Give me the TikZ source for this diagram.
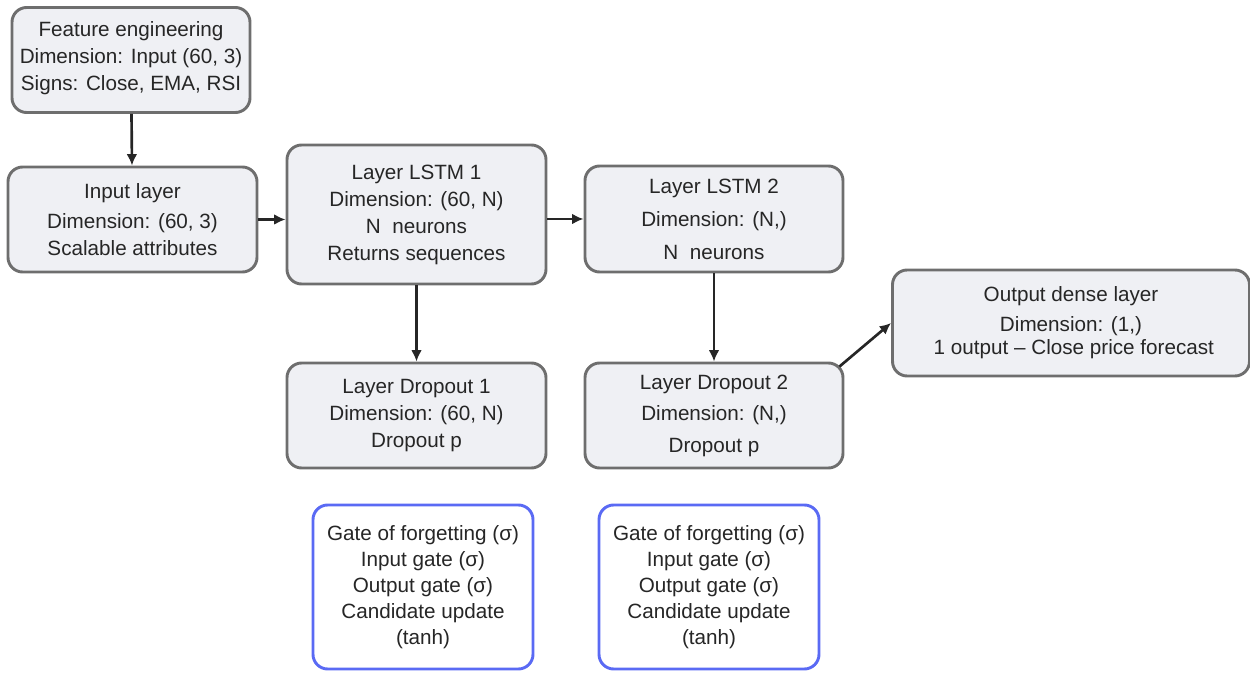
\documentclass[tikz,border=0pt]{standalone}
\usepackage{fontspec}
\setmainfont{Liberation Sans}
\usetikzlibrary{arrows.meta}
\definecolor{boxgray}{HTML}{6E6E6E}
\definecolor{boxfill}{HTML}{EFF0F4}
\definecolor{gateblue}{HTML}{5A6AF4}
\tikzset{
  layer/.style={shape=rectangle, rounded corners=11pt, draw=boxgray, fill=boxfill,
    line width=2.2pt, align=center, inner sep=0pt, text=black!85,
    font=\fontsize{15.5}{20.25}\selectfont},
  gates/.style={layer, draw=gateblue, fill=white, font=\fontsize{15.5}{19.5}\selectfont},
  flow/.style={-{Latex[length=8.5pt,width=8pt]}, line width=2pt, draw=black!85}
}
\begin{document}
\begin{tikzpicture}[x=0.75pt, y=-0.75pt]
  \useasboundingbox (0,0) rectangle (1250,673);
  \node[layer, minimum width=178.5pt, minimum height=78.75pt] (feat) at (131, 60)
    {Feature engineering\\Dimension: Input (60, 3)\\Signs: Close, EMA, RSI\\[-14.5pt]\mbox{}};
  \node[layer, minimum width=186.75pt, minimum height=78.75pt] (inp) at (132.5, 219.5)
    {Input layer\\[2pt]Dimension: (60, 3)\\Scalable attributes};
  \node[layer, minimum width=194.25pt, minimum height=104.25pt] (lstm1) at (416.5, 214.5)
    {Layer LSTM 1\\Dimension: (60, N)\\N\ \ neurons\\Returns sequences};
  \node[layer, minimum width=193.5pt, minimum height=79.5pt] (lstm2) at (714, 219)
    {Layer LSTM 2\\[4.5pt]Dimension: (N,)\\[4.5pt]N\ \ neurons};
  \node[layer, minimum width=267.75pt, minimum height=79.5pt] (dense) at (1071, 323)
    {Output dense layer\\[2.25pt]Dimension: (1,)\\[-3pt]\ 1 output -- Close price forecast};
  \node[layer, minimum width=194.25pt, minimum height=78.75pt] (drop1) at (416.5, 415.5)
    {Layer Dropout 1\\Dimension: (60, N)\\Dropout p};
  \node[layer, minimum width=193.5pt, minimum height=78.75pt] (drop2) at (714, 415.5)
    {Layer Dropout 2\\[3.4pt]Dimension: (N,)\\[3.4pt]Dropout p};
  \node[gates, minimum width=165pt, minimum height=123pt] (gate1) at (423, 587)
    {Gate of forgetting (σ)\\Input gate (σ)\\Output gate (σ)\\Candidate update\\(tanh)};
  \node[gates, minimum width=165pt, minimum height=123pt] (gate2) at (709, 587)
    {Gate of forgetting (σ)\\Input gate (σ)\\Output gate (σ)\\Candidate update\\(tanh)};
  \coordinate (corner) at ([shift={(-5,5)}]drop2.north east);
  \draw[flow] (feat) -- (inp);
  \draw[flow] (inp) -- (inp -| lstm1.west);
  \draw[flow] (lstm1.east |- lstm2) -- (lstm2);
  \draw[flow] (lstm1) -- (drop1);
  \draw[flow] (lstm2) -- (drop2);
  \draw[flow] (corner) -- (dense.west);
\end{tikzpicture}
\end{document}
